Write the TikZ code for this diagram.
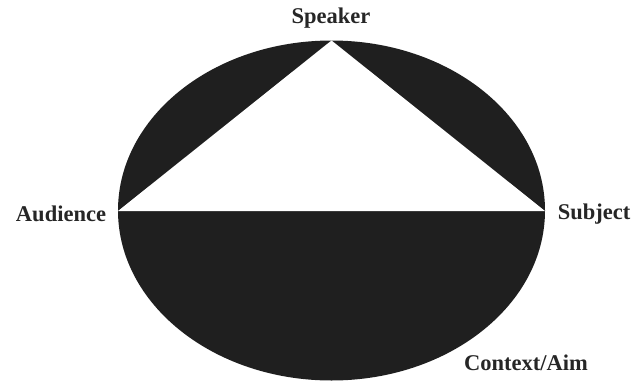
\documentclass[tikz,border=0pt]{standalone}
\usepackage{fontspec}
\setmainfont{Liberation Serif}
\usetikzlibrary{positioning,calc}

\begin{document}
\begin{tikzpicture}[x=1pt,y=-1pt,
  lbl/.style={font=\fontsize{22.5}{24}\selectfont\bfseries,inner sep=0pt,text=black!85}]
\useasboundingbox (0,0) rectangle (635,381);
% the ellipse and the white triangle
\coordinate (C) at (331.5,210.5);
\fill[black!88] (C) ellipse [x radius=213.5,y radius=170];
\coordinate (top) at (331.5,40.5);
\coordinate (lft) at (118,211);
\coordinate (rgt) at (545,211);
\fill[white] (top) -- (lft) -- (rgt) -- cycle;
% labels
\node[lbl] (speaker) at (331,18) {Speaker};
\node[lbl] (audience) at (61,214) {Audience};
\node[lbl] (subject) at (594,214) {Subject};
\node[lbl] (context) at (526,363) {Context/Aim};
\end{tikzpicture}
\end{document}
